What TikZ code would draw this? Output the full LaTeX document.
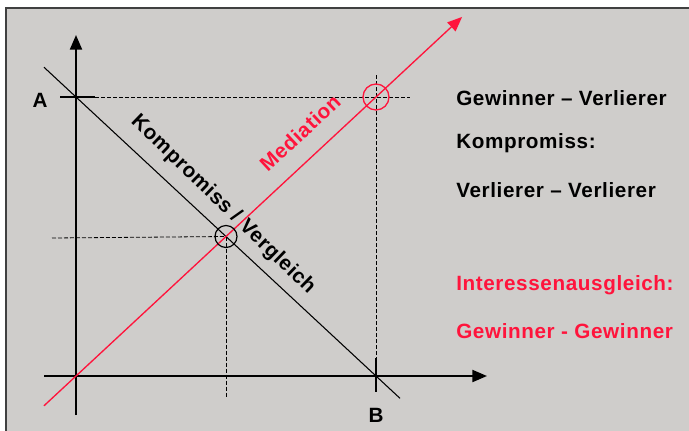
\documentclass[tikz,border=0pt]{standalone}
\usepackage{fontspec}
\setmainfont{Liberation Sans}[LetterSpace=3]
\usetikzlibrary{arrows.meta,calc}

\definecolor{panelgrey}{RGB}{207,205,203}
\definecolor{medred}{RGB}{255,20,60}

\begin{document}
\begin{tikzpicture}[x=0.75pt,y=-0.75pt,>={Triangle[length=11pt,width=9pt]},
  axis/.style={line width=1.6pt},
  guide/.style={line width=0.6pt,dash pattern=on 3pt off 1.5pt},
  label/.style={font=\bfseries\fontsize{15.5}{18}\selectfont,inner sep=0pt},
  sidetext/.style={label,anchor=west}]
  \useasboundingbox (0,0) rectangle (689,430);
  \draw[fill=panelgrey,draw=black!75,line width=1pt] (6,8) rectangle (700,440);

  % points of the diagram
  \coordinate (O) at (76,376);
  \coordinate (A) at (76,97);
  \coordinate (B) at (376,376);
  \coordinate (M) at (376,97);
  \coordinate (K) at (226,236.5);
  \coordinate (ybot) at (76,415);
  \coordinate (ytop) at (76,35);
  \coordinate (xleft) at (44,376);
  \coordinate (xright) at (487,376);

  % dashed guides
  \draw[guide] (95,97) -- (410,97);
  \draw[guide] (376,75) -- (376,358);
  \draw[guide] (52,238) -- (K);
  \draw[guide] (K) -- (226,398);

  % axes
  \draw[axis,->] (ybot) -- (ytop);
  \draw[axis,->] (xleft) -- (xright);
  \draw[axis] (60,97) -- (95,97);
  \draw[axis] (376,358) -- (376,392);

  % compromise line
  \draw[line width=0.8pt] ($(A)!-0.107!(B)$) -- ($(A)!1.08!(B)$);
  % mediation line
  \draw[medred,line width=1pt,->] ($(O)!-0.107!(M)$) -- ($(O)!1.287!(M)$);

  \draw[line width=0.9pt] (K) circle[radius=11];
  \draw[medred,line width=1pt] (M) circle[radius=13];

  \node[label] (a) at (40,100) {A};
  \node[label] (b) at (376,415) {B};
  \node[label,rotate=-44] (komp) at (223,205) {Kompromiss / Vergleich};
  \node[label,rotate=43,text=medred] (med) at (300,133) {Mediation};

  \node[sidetext] (gv) at (456,98) {Gewinner – Verlierer};
  \node[sidetext] (kp) at (456,143) {Kompromiss:};
  \node[sidetext] (vv) at (456,190) {Verlierer – Verlierer};
  \node[sidetext,text=medred] (ia) at (456,285) {Interessenausgleich:};
  \node[sidetext,text=medred] (gg) at (456,331) {Gewinner - Gewinner};
\end{tikzpicture}
\end{document}
